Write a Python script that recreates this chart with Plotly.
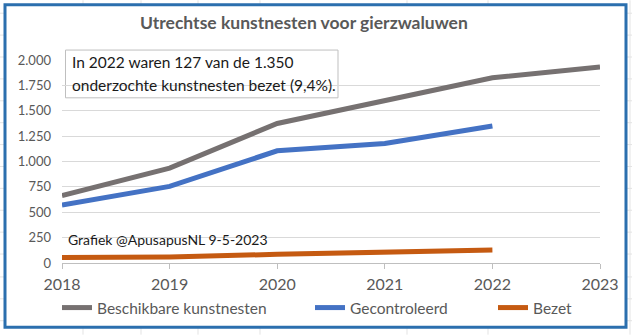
import plotly.graph_objects as go

# ---- data ----
years = [2018, 2019, 2020, 2021, 2022, 2023]
beschikbaar = [665, 935, 1375, 1600, 1825, 1930]
years_ctrl = [2018, 2019, 2020, 2021, 2022]
gecontroleerd = [570, 755, 1105, 1178, 1350]
bezet = [55, 60, 85, 108, 127]
y_tickvals = [0, 250, 500, 750, 1000, 1250, 1500, 1750, 2000]
y_ticktext = ["0", "250", "500", "750", "1.000", "1.250", "1.500", "1.750", "2.000"]
title_text = "Utrechtse kunstnesten voor gierzwaluwen"
note_line1 = "In 2022 waren 127 van de 1.350"
note_line2 = "onderzochte kunstnesten bezet (9,4%)."
credit = "Grafiek @ApusapusNL 9-5-2023"

W, H = 632, 336
L, R, T, B = 62, 32, 60, 72
PW, PH = W - L - R, H - T - B
FONT = "Lato"
GREY_TXT = "#595959"


def fx(px):
    return (px - L) / PW


def fy(py):
    return (H - B - py) / PH


fig = go.Figure()
fig.add_trace(go.Scatter(x=years, y=beschikbaar, mode="lines", name="Beschikbare kunstnesten",
                         line=dict(color="#767171", width=5), legend="legend"))
fig.add_trace(go.Scatter(x=years_ctrl, y=gecontroleerd, mode="lines", name="Gecontroleerd",
                         line=dict(color="#4472C4", width=5), legend="legend2"))
fig.add_trace(go.Scatter(x=years_ctrl, y=bezet, mode="lines", name="Bezet",
                         line=dict(color="#C55A11", width=5), legend="legend3"))

shapes = []
# spreadsheet gridlines behind the chart
for vx in [83, 141, 198, 260, 407, 488, 630]:
    shapes.append(dict(type="line", xref="paper", yref="paper", x0=fx(vx), x1=fx(vx),
                       y0=fy(0), y1=fy(H), line=dict(color="#e3e3e3", width=1), layer="below"))
for hy in [13, 35, 57, 79, 101, 123, 145, 167, 189, 211, 233, 255, 278, 300, 322]:
    shapes.append(dict(type="line", xref="paper", yref="paper", x0=fx(0), x1=fx(W),
                       y0=fy(hy), y1=fy(hy), line=dict(color="#e3e3e3", width=1), layer="below"))
# chart area
shapes.append(dict(type="rect", xref="paper", yref="paper", x0=fx(5), x1=fx(626),
                   y0=fy(4.5), y1=fy(328.5), fillcolor="white",
                   line=dict(color="#2B6FAE", width=3), layer="below"))
# note box
shapes.append(dict(type="rect", xref="paper", yref="paper", x0=fx(65.5), x1=fx(338),
                   y0=fy(50), y1=fy(98), fillcolor="white",
                   line=dict(color="#BFBFBF", width=1), layer="between"))
# credit box (white, hides gridline)
shapes.append(dict(type="rect", xref="paper", yref="paper", x0=fx(63), x1=fx(340),
                   y0=fy(230), y1=fy(249), fillcolor="white",
                   line=dict(width=0), layer="between"))

annotations = [
    dict(text="<b>" + title_text + "</b>", xref="paper", yref="paper", x=fx(304), y=fy(22),
         xanchor="center", yanchor="middle", showarrow=False,
         font=dict(family=FONT, size=17.5, color=GREY_TXT)),
    dict(text=note_line1, xref="paper", yref="paper", x=fx(70), y=fy(62),
         xanchor="left", yanchor="middle", showarrow=False,
         font=dict(family=FONT, size=15.5, color="#1a1a1a")),
    dict(text=note_line2, xref="paper", yref="paper", x=fx(70), y=fy(85),
         xanchor="left", yanchor="middle", showarrow=False,
         font=dict(family=FONT, size=15.5, color="#1a1a1a")),
    dict(text=credit, xref="paper", yref="paper", x=fx(66), y=fy(240),
         xanchor="left", yanchor="middle", showarrow=False,
         font=dict(family=FONT, size=14, color="#1a1a1a")),
]

legend_common = dict(orientation="h", xanchor="left", yanchor="middle",
                     font=dict(family=FONT, size=15.5, color=GREY_TXT),
                     bgcolor="rgba(0,0,0,0)", itemwidth=30)

fig.update_layout(
    width=W, height=H,
    margin=dict(l=L, r=R, t=T, b=B),
    paper_bgcolor="white", plot_bgcolor="rgba(0,0,0,0)",
    showlegend=True,
    legend=dict(x=fx(57), y=fy(308), **legend_common),
    legend2=dict(x=fx(310), y=fy(308), **legend_common),
    legend3=dict(x=fx(493), y=fy(308), **legend_common),
    xaxis=dict(range=[2018, 2023], dtick=1, tick0=2018, showgrid=False,
               showline=True, linecolor="#BFBFBF", linewidth=1,
               ticks="outside", ticklen=5, tickcolor="#BFBFBF",
               ticklabelstandoff=2,
               tickfont=dict(family=FONT, size=16, color=GREY_TXT),
               zeroline=False, fixedrange=True),
    yaxis=dict(range=[0, 2000], tickvals=y_tickvals, ticktext=y_ticktext,
               showgrid=True, gridcolor="#D9D9D9", gridwidth=1,
               showline=False, zeroline=False, ticks="",
               ticklabelstandoff=10,
               tickfont=dict(family=FONT, size=13, color=GREY_TXT), fixedrange=True),
    shapes=shapes, annotations=annotations,
)

fig.write_html("out.html")
